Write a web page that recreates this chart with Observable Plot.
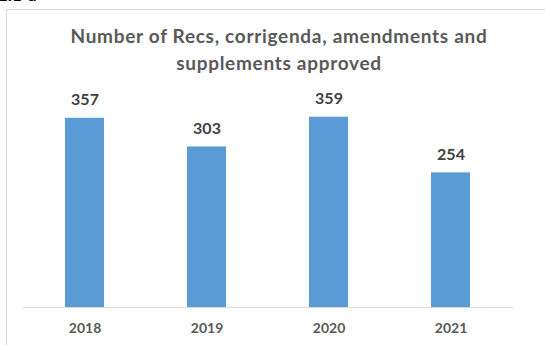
<!DOCTYPE html>
<html>
<head>
<meta charset="utf-8">
<script src="https://cdn.jsdelivr.net/npm/d3@7"></script>
<script src="https://cdn.jsdelivr.net/npm/@observablehq/plot@0.6"></script>
<style>
  html, body { margin: 0; padding: 0; background: #fff; width: 545px; height: 345px; overflow: hidden; }
  body { position: relative; font-family: Lato, "Open Sans", sans-serif; }
  #cut { position: absolute; left: -2px; top: -16px; font: bold 17px Lato, sans-serif; color: #000; }
  #frame { position: absolute; left: 6px; top: 9px; width: 560px; height: 360px; border: 1px solid #d9d9d9; box-sizing: border-box; }
  #title { position: absolute; left: 0; top: 22px; width: 558px; text-align: center; font-weight: bold; font-size: 19px; letter-spacing: 0.7px; line-height: 27px; color: #595959; }
  #chart { position: absolute; left: 0; top: 80px; }
</style>
</head>
<body>
<div id="cut">1.1-a</div>
<div id="frame"></div>
<div id="title">Number of Recs, corrigenda, amendments and<br>supplements approved</div>
<div id="chart"></div>
<script>
const years = ["2018", "2019", "2020", "2021"];
const counts = [357, 303, 359, 254];

const data = years.map((y, i) => ({year: y, count: counts[i]}));

const chart = Plot.plot({
  width: 545,
  height: 265,
  marginLeft: 23,
  marginRight: 32,
  marginTop: 15,
  marginBottom: 38,
  style: {background: "transparent", fontFamily: "Lato, 'Open Sans', sans-serif"},
  x: {domain: years, paddingInner: 0.68, paddingOuter: 0.34, label: null},
  y: {domain: [0, 400], axis: null},
  marks: [
    Plot.barY(data, {x: "year", y: "count", fill: "#5b9bd5"}),
    Plot.ruleY([0], {stroke: "#d9d9d9", strokeWidth: 1}),
    Plot.text(data, {x: "year", y: "count", text: d => String(d.count), dy: -18, fontSize: 16, fontWeight: "bold", fill: "#404040"}),
    Plot.axisX({tickSize: 0, tickPadding: 16, fontSize: 14, fontWeight: "bold", color: "#595959", label: null})
  ]
});
document.getElementById("chart").appendChild(chart);
</script>
</body>
</html>
